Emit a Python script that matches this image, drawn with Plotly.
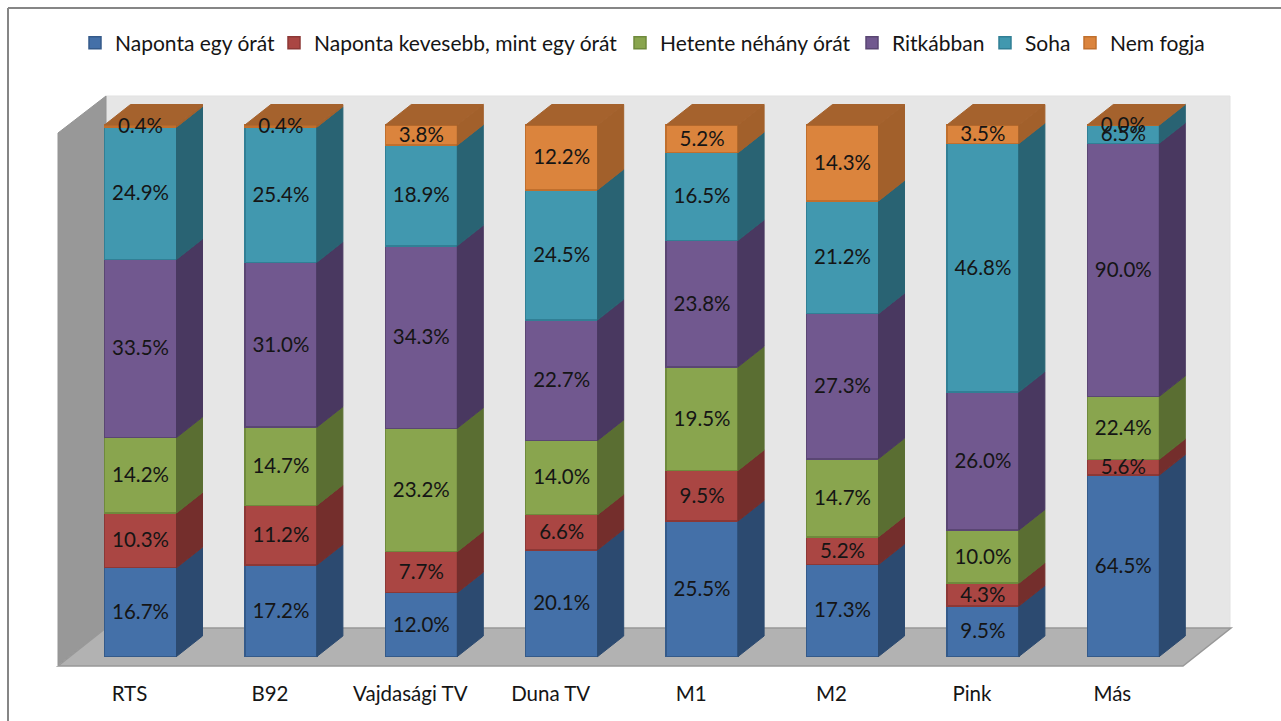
import numpy as np
import plotly.graph_objects as go

categories = ["RTS", "B92", "Vajdasági TV", "Duna TV", "M1", "M2", "Pink", "Más"]
naponta_egy = [16.7, 17.2, 12.0, 20.1, 25.5, 17.3, 9.5, 64.5]
naponta_kev = [10.3, 11.2, 7.7, 6.6, 9.5, 5.2, 4.3, 5.6]
hetente = [14.2, 14.7, 23.2, 14.0, 19.5, 14.7, 10.0, 22.4]
ritkabban = [33.5, 31.0, 34.3, 22.7, 23.8, 27.3, 26.0, 90.0]
soha = [24.9, 25.4, 18.9, 24.5, 16.5, 21.2, 46.8, 6.5]
nem_fogja = [0.4, 0.4, 3.8, 12.2, 5.2, 14.3, 3.5, 0.0]

names = ["Naponta egy órát", "Naponta kevesebb, mint egy órát", "Hetente néhány órát",
         "Ritkábban", "Soha", "Nem fogja"]
series = [naponta_egy, naponta_kev, hetente, ritkabban, soha, nem_fogja]
front = ["#4470A8", "#AA4643", "#89A54E", "#71588F", "#4198AF", "#DB843D"]
edge = ["#345A8A", "#8C3836", "#6F8A3C", "#5A4673", "#317F95", "#C06F2D"]
side = ["#2C4A70", "#742E2C", "#5A6E32", "#493860", "#296373", "#A2602B"]
top_col = "#A5622D"
legend_text_px = [115, 314, 660, 892, 1025, 1110]

W, H, BOTTOM = 1281, 721, 55
PLOT_H = H - BOTTOM
SPACING, X0 = 140.4, 140.5
Y0_PX, Y100_PX = 656.5, 125.0
PX_PER_PCT = (Y0_PX - Y100_PX) / 100
BAR_W = 72 / SPACING
DX, DY = 26 / SPACING, 20.5 / PX_PER_PCT
TEXT_SHIFT = 1.8 / PX_PER_PCT
FONT = "Lato"
TXT = "#151515"


def px(x):
    return x / W


def py(y):
    return 1 - y / PLOT_H


def poly(points, fill, line=None, width=1):
    path = "M" + " L".join(f"{px(x):.5f},{py(y):.5f}" for x, y in points) + " Z"
    return dict(type="path", xref="paper", yref="paper", path=path, fillcolor=fill,
                line=dict(color=line or fill, width=width), layer="below")


shapes = [
    poly([(106, 96), (1230, 96), (1230, 628), (106, 628)], "#E6E6E6", "#E2E2E2"),
    poly([(58, 133), (106, 96), (106, 628), (58, 665)], "#989898", "#949494"),
    poly([(58, 666), (106, 628), (1231, 628), (1183, 666)], "#B2B2B2", "#989898", 1.5),
    dict(type="line", xref="paper", yref="paper", x0=px(8), x1=px(8), y0=py(8), y1=py(H + 5),
         line=dict(color="#868686", width=2), layer="below"),
    dict(type="line", xref="paper", yref="paper", x0=px(8), x1=px(W + 5), y0=py(8), y1=py(8),
         line=dict(color="#868686", width=2), layer="below"),
]

x_idx = np.arange(len(categories), dtype=float)
vals = np.array(series, dtype=float)
share = vals / vals.sum(axis=0) * 100
lows = np.vstack([np.zeros(len(categories)), np.cumsum(share, axis=0)[:-1]])
highs = lows + share

fig = go.Figure()

for k, (name, v, f, e) in enumerate(zip(names, series, front, edge)):
    fig.add_trace(go.Bar(name=name, x=x_idx, y=v, width=BAR_W,
                         legend="legend" if k == 0 else f"legend{k + 1}",
                         marker=dict(color=f, line=dict(color=e, width=1.5)), hoverinfo="skip"))

for k in range(len(series)):
    xs, ys = [], []
    for i in x_idx.astype(int):
        if share[k, i] <= 0:
            continue
        r = i + BAR_W / 2
        xs += [r, r + DX, r + DX, r, r, None]
        ys += [lows[k, i], lows[k, i] + DY, highs[k, i] + DY, highs[k, i], lows[k, i], None]
    fig.add_trace(go.Scatter(x=xs, y=ys, mode="lines", fill="toself", fillcolor=side[k],
                             line=dict(color=side[k], width=1), showlegend=False, hoverinfo="skip"))

xs, ys = [], []
for i in x_idx:
    l, r = i - BAR_W / 2, i + BAR_W / 2
    xs += [l, l + DX, r + DX, r, l, None]
    ys += [100, 100 + DY, 100 + DY, 100, 100, None]
fig.add_trace(go.Scatter(x=xs, y=ys, mode="lines", fill="toself", fillcolor=top_col,
                         line=dict(color=top_col, width=1), showlegend=False, hoverinfo="skip"))

for k in range(len(series)):
    fig.add_trace(go.Scatter(x=x_idx, y=(lows[k] + highs[k]) / 2 - TEXT_SHIFT, mode="text",
                             text=[f"{a:.1f}%" for a in series[k]], textposition="middle center",
                             textfont=dict(family=FONT, size=20.5, color=TXT),
                             showlegend=False, hoverinfo="skip", cliponaxis=False))

legends = {}
for k, tx in enumerate(legend_text_px):
    legends["legend" if k == 0 else f"legend{k + 1}"] = dict(
        orientation="h", x=(tx - 40) / W, xanchor="left", y=py(43), yanchor="middle",
        font=dict(family=FONT, size=21, color=TXT), bgcolor="rgba(0,0,0,0)", traceorder="normal")

fig.update_layout(
    width=W, height=H, autosize=False,
    margin=dict(l=0, r=0, t=0, b=BOTTOM, pad=0),
    paper_bgcolor="white", plot_bgcolor="rgba(0,0,0,0)",
    barmode="stack", barnorm="percent",
    shapes=shapes,
    showlegend=True,
    xaxis=dict(range=[-X0 / SPACING, (W - X0) / SPACING], showgrid=False, zeroline=False,
               showline=False, tickmode="array", tickvals=list(x_idx - 11 / SPACING),
               ticktext=categories, ticks="outside", ticklen=9, tickcolor="rgba(0,0,0,0)",
               tickfont=dict(family=FONT, size=20.5, color=TXT)),
    yaxis=dict(range=[-(PLOT_H - Y0_PX) / PX_PER_PCT, Y0_PX / PX_PER_PCT], visible=False),
    **legends,
)

fig.write_html("out.html", config={"displayModeBar": False},
               post_script="document.body.style.margin='0';")
